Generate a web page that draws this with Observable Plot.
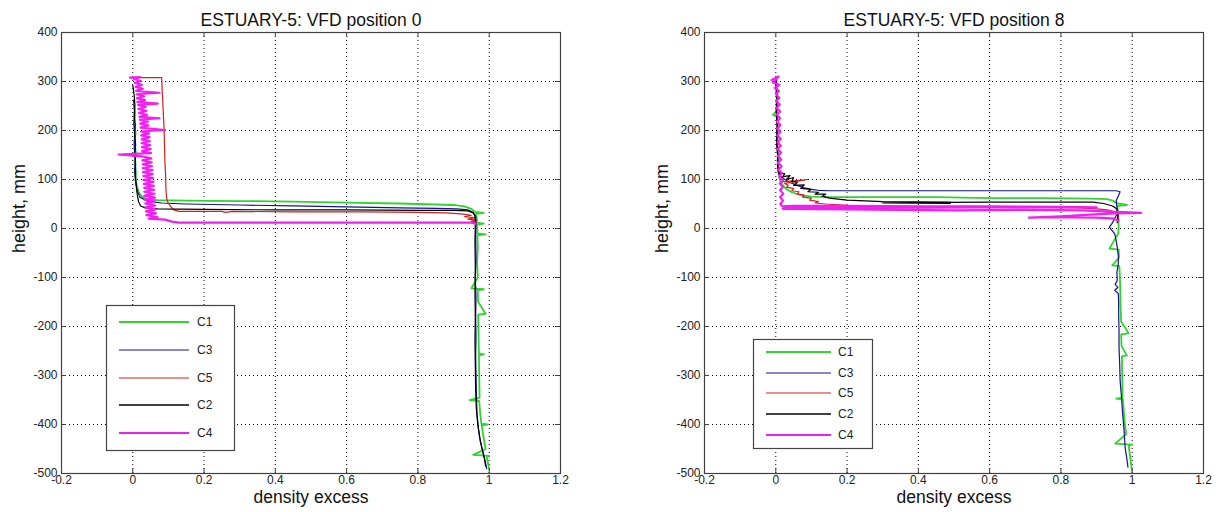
<!DOCTYPE html>
<html><head><meta charset="utf-8">
<script src="https://cdn.jsdelivr.net/npm/d3@7"></script>
<script src="https://cdn.jsdelivr.net/npm/@observablehq/plot@0.6"></script>
<style>
html,body{margin:0;padding:0;background:#fff;}
#wrap{position:relative;width:1216px;height:512px;display:flex;}
#overlay{position:absolute;left:0;top:0;pointer-events:none;}
</style>
</head><body>
<div id="wrap"></div>
<script>
// ---------- data ----------
const titles = ["ESTUARY-5: VFD position 0", "ESTUARY-5: VFD position 8"];
const xLabel = "density excess";
const yLabel = "height, mm";
const xTicks = [-0.2, 0, 0.2, 0.4, 0.6, 0.8, 1, 1.2];
const xTickLabels = ["-0.2", "0", "0.2", "0.4", "0.6", "0.8", "1", "1.2"];
const yTicks = [-500, -400, -300, -200, -100, 0, 100, 200, 300, 400];
const yTickLabels = ["-500", "-400", "-300", "-200", "-100", "0", "100", "200", "300", "400"];
const seriesNames = ["C1", "C3", "C5", "C2", "C4"];
const seriesColors = ["#2fd42f", "#14148c", "#d02020", "#000000", "#f020f0"];

// position 0 profiles: [density excess, height mm]
const p0C1 = [[0.004,250],[0.007,235],[0.003,215],[0.008,195],[0.004,175],[0.009,155],[0.005,135],[0.009,115],[0.008,100],[0.011,88],[0.016,75],[0.025,66],[0.04,60],[0.07,58],[0.15,57],[0.3,56],[0.45,55],[0.6,53],[0.75,51],[0.85,49],[0.9,48],[0.93,45],[0.95,40],[0.96,34],[0.985,32],[0.963,30],[0.965,22],[0.966,12],[0.985,10],[0.966,8],[0.967,-10],[0.99,-12],[0.967,-14],[0.968,-40],[0.966,-70],[0.968,-100],[0.95,-122],[0.985,-124],[0.968,-126],[0.969,-150],[0.99,-174],[0.969,-176],[0.97,-210],[0.971,-255],[0.985,-257],[0.971,-259],[0.972,-300],[0.973,-345],[0.945,-350],[0.972,-352],[0.975,-380],[0.978,-398],[0.995,-400],[0.979,-402],[0.985,-430],[0.99,-450],[0.955,-462],[1.0,-464],[0.993,-466],[0.997,-480],[1.0,-492]];
const p0C3 = [[0.002,262],[0.005,240],[0.003,215],[0.006,190],[0.004,165],[0.007,140],[0.005,115],[0.008,95],[0.012,78],[0.02,64],[0.04,56],[0.08,52],[0.15,50],[0.3,48],[0.45,46],[0.6,44],[0.75,42],[0.85,41],[0.91,40],[0.94,38],[0.955,33],[0.962,25],[0.963,12],[0.962,-20],[0.963,-60],[0.961,-100],[0.963,-140],[0.962,-180],[0.963,-220],[0.962,-260],[0.963,-300],[0.964,-340],[0.966,-380],[0.97,-410],[0.975,-435],[0.982,-455],[0.988,-472],[0.993,-490]];
const p0C5 = [[0.0,308],[0.081,308],[0.082,290],[0.084,260],[0.086,230],[0.088,200],[0.089,170],[0.09,140],[0.092,110],[0.093,80],[0.095,62],[0.098,54],[0.105,46],[0.115,38],[0.13,35],[0.25,35],[0.26,33],[0.28,35],[0.45,34],[0.65,34],[0.8,33],[0.88,32],[0.92,30],[0.95,27],[0.93,24],[0.96,22],[0.94,19],[0.965,17],[0.95,15],[0.962,12],[0.962,5]];
const p0C2 = [[0.0,292],[0.004,272],[0.006,252],[0.004,232],[0.007,212],[0.005,192],[0.008,172],[0.006,152],[0.008,132],[0.007,112],[0.009,92],[0.012,72],[0.016,55],[0.022,46],[0.035,42],[0.07,40],[0.2,39],[0.4,38],[0.6,38],[0.8,37],[0.9,37],[0.94,36],[0.955,32],[0.96,25],[0.961,12],[0.96,-30],[0.961,-80],[0.96,-130],[0.961,-180],[0.96,-230],[0.961,-280],[0.962,-330],[0.964,-370],[0.968,-400],[0.973,-425],[0.98,-450],[0.986,-468],[0.99,-485]];
const p0C4 = [[-0.008,308],[0.02,309],[0.004,305],[0.022,301],[0.006,297],[0.025,293],[0.008,289],[0.028,285],[0.009,281],[0.075,277],[0.011,274],[0.032,270],[0.012,266],[0.034,262],[0.013,258],[0.07,255],[0.015,252],[0.036,248],[0.016,244],[0.038,240],[0.018,236],[0.04,232],[0.019,228],[0.075,225],[0.02,222],[0.042,218],[0.021,214],[0.044,210],[0.022,206],[0.09,201],[0.023,198],[0.046,194],[0.024,190],[0.047,186],[0.025,182],[0.048,178],[0.025,174],[0.049,170],[0.026,166],[0.05,162],[0.026,158],[0.051,154],[-0.04,151],[0.027,147],[0.052,143],[0.027,139],[0.053,135],[0.028,131],[0.054,127],[0.028,123],[0.055,119],[0.029,115],[0.056,111],[0.03,107],[0.057,103],[0.03,99],[0.058,95],[0.031,91],[0.059,87],[0.032,83],[0.06,79],[0.032,75],[0.061,71],[0.033,67],[0.062,63],[0.034,59],[0.062,55],[0.035,51],[0.063,47],[0.036,43],[0.064,39],[0.037,35],[0.065,31],[0.038,27],[0.07,23],[0.045,20],[0.09,18],[0.11,14],[0.13,12],[0.4,12],[0.7,12],[0.9,12],[0.95,12],[0.962,10]];

// position 8 profiles: [density excess, height mm]
const p8C1 = [[0.003,306],[0.0,292],[0.004,275],[0.002,258],[0.005,242],[-0.008,232],[0.004,228],[0.003,210],[0.006,192],[0.004,175],[0.007,158],[0.005,140],[0.006,125],[0.008,110],[0.012,98],[0.02,88],[0.03,80],[0.045,74],[0.06,70],[0.08,67],[0.1,65],[0.15,64],[0.3,64],[0.45,64],[0.6,62],[0.75,62],[0.88,61],[0.93,60],[0.945,57],[0.955,52],[0.985,48],[0.958,46],[0.96,35],[0.961,20],[0.962,5],[0.961,-10],[0.936,-41],[0.962,-43],[0.963,-60],[0.944,-75],[0.964,-77],[0.966,-110],[0.967,-150],[0.969,-190],[0.99,-214],[0.969,-216],[0.97,-240],[0.985,-259],[0.971,-261],[0.972,-300],[0.973,-345],[0.955,-347],[0.974,-349],[0.978,-390],[0.983,-420],[0.952,-439],[1.0,-441],[0.99,-443],[0.995,-470],[0.999,-494]];
const p8C3 = [[0.002,302],[0.004,270],[0.002,240],[0.005,210],[0.003,180],[0.006,150],[0.005,125],[0.008,112],[0.015,106],[0.025,100],[0.04,94],[0.06,88],[0.08,83],[0.1,80],[0.12,78],[0.15,77],[0.3,77],[0.5,77],[0.7,77],[0.9,77],[0.955,77],[0.966,75],[0.962,68],[0.955,57],[0.957,45],[0.958,30],[0.943,10],[0.936,3],[0.951,-11],[0.955,-25],[0.958,-38],[0.961,-55],[0.961,-72],[0.957,-90],[0.958,-106],[0.952,-114],[0.96,-120],[0.951,-126],[0.961,-133],[0.962,-150],[0.962,-174],[0.963,-210],[0.963,-242],[0.965,-280],[0.966,-310],[0.97,-345],[0.973,-378],[0.977,-410],[0.98,-446],[0.985,-470],[0.988,-487]];
const p8C5 = [[0.0,292],[0.004,262],[0.002,232],[0.005,202],[0.003,172],[0.006,142],[0.007,118],[0.012,105],[0.02,100],[0.015,95],[0.09,100],[0.025,92],[0.035,88],[0.03,84],[0.05,82],[0.045,77],[0.065,75],[0.06,70],[0.08,68],[0.075,64],[0.1,62],[0.095,58],[0.12,55],[0.11,52],[0.14,50],[0.2,47],[0.35,45],[0.55,44],[0.75,43],[0.85,42],[0.9,40],[0.93,38],[0.95,34],[0.96,28],[0.962,18]];
const p8C2 = [[0.0,300],[0.003,270],[0.001,240],[0.004,210],[0.002,180],[0.005,150],[0.006,125],[0.009,113],[0.025,112],[0.02,106],[0.04,108],[0.03,100],[0.05,104],[0.045,96],[0.06,94],[0.05,88],[0.08,89],[0.07,82],[0.1,80],[0.09,75],[0.12,74],[0.11,70],[0.14,70],[0.13,66],[0.15,62],[0.2,58],[0.3,55],[0.49,54],[0.3,52],[0.49,51],[0.35,53],[0.6,54],[0.75,54],[0.89,54],[0.92,51],[0.945,46],[0.957,40],[0.96,28],[0.958,12]];
const p8C4 = [[-0.012,303],[0.008,310],[-0.008,298],[0.01,293],[-0.003,287],[0.009,281],[0.0,274],[0.01,267],[0.001,260],[0.011,253],[0.002,246],[0.012,239],[0.003,232],[0.012,225],[0.003,218],[0.013,211],[0.004,204],[0.013,197],[0.004,190],[0.014,183],[0.005,176],[0.014,169],[0.005,162],[0.015,155],[0.006,148],[0.015,141],[0.006,134],[0.016,127],[0.007,120],[0.017,113],[0.01,106],[0.02,99],[0.011,92],[0.02,85],[0.012,78],[0.021,71],[0.012,64],[0.02,57],[0.013,50],[0.018,45],[0.05,46],[0.2,46],[0.4,45],[0.6,45],[0.8,44],[0.9,43],[0.6,43],[0.3,42],[0.05,44],[0.02,40],[0.2,39],[0.5,37],[0.7,38],[0.86,37],[0.92,35],[1.025,32],[0.95,31],[0.87,28],[0.8,25],[0.71,22],[0.78,23],[0.9,22],[0.95,20],[0.962,15]];

const panel0 = [p0C1, p0C3, p0C5, p0C2, p0C4];
const panel8 = [p8C1, p8C3, p8C5, p8C2, p8C4];

// ---------- drawing ----------
const FONT = "'Liberation Sans', Arial, Helvetica, sans-serif";
const lineWidths = [1.8, 1.2, 1.2, 1.2, 2.2];
const legendWidths = [2, 1.2, 1.2, 1.4, 2.2];
const xDom = [-0.2, 1.2], yDom = [-500, 400];

function panel(title, series, mL, mR) {
  const marks = [
    Plot.gridX(xTicks, {stroke: "#000", strokeOpacity: 1, strokeWidth: 1, strokeDasharray: "1,3"}),
    Plot.gridY(yTicks, {stroke: "#000", strokeOpacity: 1, strokeWidth: 1, strokeDasharray: "1,3"})
  ];
  series.forEach((s, i) => {
    marks.push(Plot.line(s, {x: d => d[0], y: d => d[1], stroke: seriesColors[i], strokeWidth: lineWidths[i], curve: "linear"}));
  });
  marks.push(
    Plot.ruleX(xTicks, {x: d => d, y1: yDom[0], y2: yDom[0] + 10, stroke: "#404040"}),
    Plot.ruleX(xTicks, {x: d => d, y1: yDom[1], y2: yDom[1] - 10, stroke: "#404040"}),
    Plot.ruleY(yTicks, {y: d => d, x1: xDom[0], x2: xDom[0] + 0.014, stroke: "#404040"}),
    Plot.ruleY(yTicks, {y: d => d, x1: xDom[1], x2: xDom[1] - 0.014, stroke: "#404040"}),
    Plot.frame({stroke: "#404040", strokeWidth: 1.2}),
    Plot.axisX(xTicks, {anchor: "bottom", tickSize: 0, tickPadding: 2, label: null, fontSize: 12,
      tickFormat: d => xTickLabels[xTicks.indexOf(d)], fill: "#222"}),
    Plot.axisY(yTicks, {anchor: "left", tickSize: 0, tickPadding: 4, label: null, fontSize: 12,
      tickFormat: d => yTickLabels[yTicks.indexOf(d)], fill: "#222"}),
    Plot.text([title], {frameAnchor: "top", dy: -19, fontSize: 17.5, fill: "#111", text: d => d}),
    Plot.text([xLabel], {frameAnchor: "bottom", dy: 29, fontSize: 17.5, fill: "#111", text: d => d}),
    Plot.text([yLabel], {frameAnchor: "left", dx: -42, rotate: -90, fontSize: 18, fill: "#111", text: d => d})
  );
  return Plot.plot({
    width: 608, height: 512,
    marginLeft: mL, marginRight: mR, marginTop: 32, marginBottom: 39,
    x: {domain: xDom, type: "linear"},
    y: {domain: yDom, type: "linear"},
    style: {fontFamily: FONT, background: "#fff", overflow: "visible"},
    marks
  });
}

const wrap = document.getElementById("wrap");
wrap.appendChild(panel(titles[0], panel0, 61, 48));
wrap.appendChild(panel(titles[1], panel8, 96, 13));

// legends (MATLAB-style boxes), positioned in page pixels
const legends = [
  {x: 106, y: 305, w: 128, h: 145, rows: [322, 350, 378, 405, 433], l1: 119, l2: 189, tx: 197},
  {x: 753, y: 339, w: 119, h: 109, rows: [352, 373, 393, 414, 435], l1: 766, l2: 831, tx: 838}
];
const ov = d3.select(wrap).append("svg").attr("id", "overlay").attr("width", 1216).attr("height", 512)
  .style("font-family", FONT);
legends.forEach(L => {
  ov.append("rect").attr("x", L.x + 0.5).attr("y", L.y + 0.5).attr("width", L.w).attr("height", L.h)
    .attr("fill", "#fff").attr("stroke", "#444").attr("stroke-width", 1.2);
  seriesNames.forEach((n, i) => {
    ov.append("line").attr("x1", L.l1).attr("x2", L.l2).attr("y1", L.rows[i]).attr("y2", L.rows[i])
      .attr("stroke", seriesColors[i]).attr("stroke-width", legendWidths[i]);
    ov.append("text").attr("x", L.tx).attr("y", L.rows[i]).attr("dy", "0.35em")
      .attr("font-size", 12).attr("fill", "#222").text(n);
  });
});
</script>
</body></html>
